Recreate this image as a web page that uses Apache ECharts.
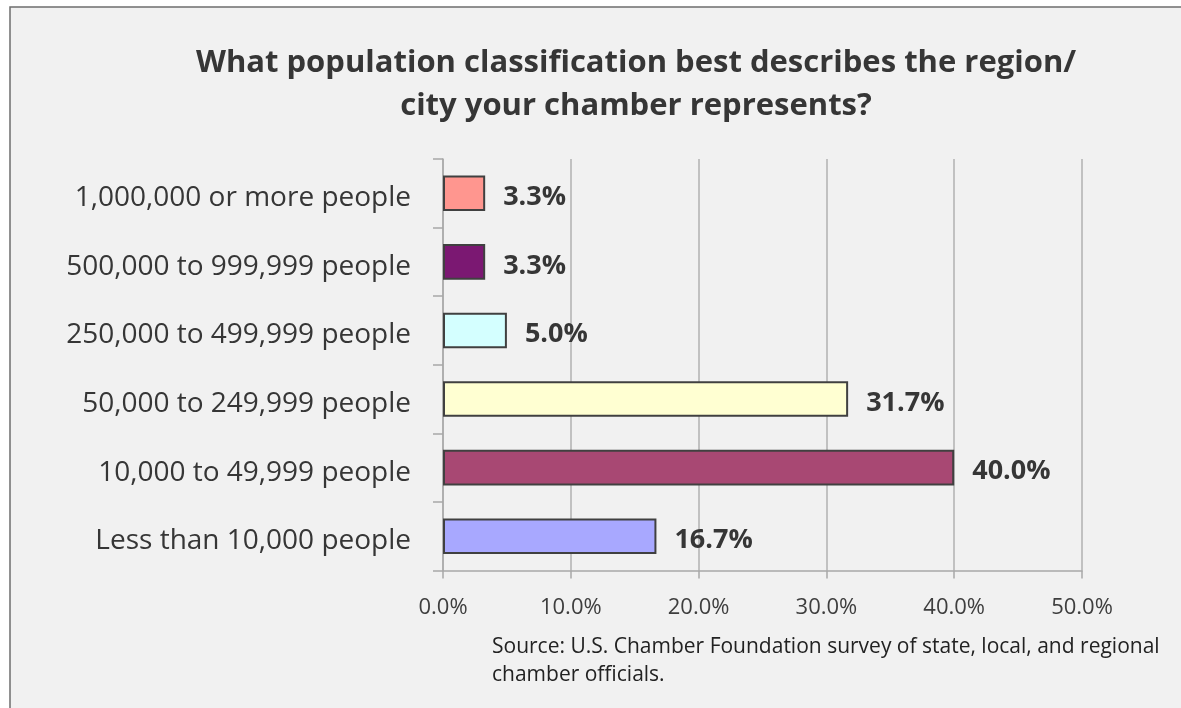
<!DOCTYPE html>
<html>
<head>
<meta charset="utf-8">
<script src="https://cdn.jsdelivr.net/npm/echarts@6/dist/echarts.min.js"></script>
<style>
  html, body { margin: 0; padding: 0; background: #ffffff; }
  #chart { width: 1181px; height: 708px; }
</style>
</head>
<body>
<div id="chart"></div>
<script>
// Survey answer categories, top to bottom
const categories = [
  '1,000,000 or more people',
  '500,000 to 999,999 people',
  '250,000 to 499,999 people',
  '50,000 to 249,999 people',
  '10,000 to 49,999 people',
  'Less than 10,000 people'
];
// Share of respondents (%)
const shares = [3.3, 3.3, 5.0, 31.7, 40.0, 16.7];
// Fill colour per bar
const barColors = ['#ff968f', '#7b1872', '#d4ffff', '#ffffd2', '#a84873', '#a8a8ff'];

const titleLines = [
  'What population classification best describes the region/',
  'city your chamber represents?'
];
const sourceLines = [
  'Source: U.S. Chamber Foundation survey of state, local, and regional',
  'chamber officials.'
];

const FONT = '"Open Sans", "DejaVu Sans", sans-serif';
const TEXT = '#363636';

const chart = echarts.init(document.getElementById('chart'), null, { renderer: 'canvas' });

const option = {
  backgroundColor: '#ffffff',
  animation: false,
  graphic: [
    {
      type: 'rect', z: -10, silent: true,
      shape: { x: 10, y: 7, width: 1300, height: 900 },
      style: { fill: '#f1f1f1', stroke: '#6e6e6e', lineWidth: 1.5 }
    },
    {
      type: 'text', silent: true,
      style: {
        text: titleLines[0], x: 636, y: 63,
        textAlign: 'center', textVerticalAlign: 'middle',
        font: 'bold 31px ' + FONT, fill: TEXT
      }
    },
    {
      type: 'text', silent: true,
      style: {
        text: titleLines[1], x: 636, y: 106,
        textAlign: 'center', textVerticalAlign: 'middle',
        font: 'bold 31px ' + FONT, fill: TEXT
      }
    },
    {
      type: 'text', silent: true,
      style: {
        text: sourceLines[0], x: 492, y: 647,
        textAlign: 'left', textVerticalAlign: 'middle',
        font: '21px ' + FONT, fill: '#222222'
      }
    },
    {
      type: 'text', silent: true,
      style: {
        text: sourceLines[1], x: 492, y: 675,
        textAlign: 'left', textVerticalAlign: 'middle',
        font: '21px ' + FONT, fill: '#222222'
      }
    }
  ],
  grid: { left: 443, right: 99, top: 159, bottom: 137.5, containLabel: false },
  xAxis: {
    type: 'value',
    min: 0, max: 50, interval: 10,
    axisLine: { show: true, lineStyle: { color: '#a8a8a8', width: 1.5 } },
    axisTick: { show: true, length: 8, lineStyle: { color: '#a8a8a8', width: 1.5 } },
    splitLine: { show: true, lineStyle: { color: '#b0b0b0', width: 1.5 } },
    axisLabel: {
      margin: 26, fontSize: 22, fontFamily: FONT, color: '#3e3e3e',
      formatter: v => v.toFixed(1) + '%'
    }
  },
  yAxis: {
    type: 'category',
    data: categories,
    inverse: true,
    axisLine: { show: true, lineStyle: { color: '#a8a8a8', width: 1.5 } },
    axisTick: { show: true, length: 10, interval: 0, alignWithLabel: false, lineStyle: { color: '#a8a8a8', width: 1.5 } },
    axisLabel: {
      margin: 32,
      formatter: v => '{c|' + v + '}',
      rich: { c: { fontSize: 28, fontFamily: FONT, color: TEXT, padding: [10, 0, 0, 0] } }
    },
    splitLine: { show: false }
  },
  series: [{
    type: 'bar',
    data: shares.map((v, i) => ({ value: v, itemStyle: { color: barColors[i] } })),
    barWidth: '52%',
    itemStyle: { borderColor: '#404040', borderWidth: 2 },
    label: {
      show: true, position: 'right', distance: 18, offset: [0, 4],
      fontSize: 27, fontWeight: 'bold', fontFamily: FONT, color: TEXT,
      formatter: p => p.value.toFixed(1) + '%'
    }
  }]
};

chart.setOption(option);
</script>
</body>
</html>
